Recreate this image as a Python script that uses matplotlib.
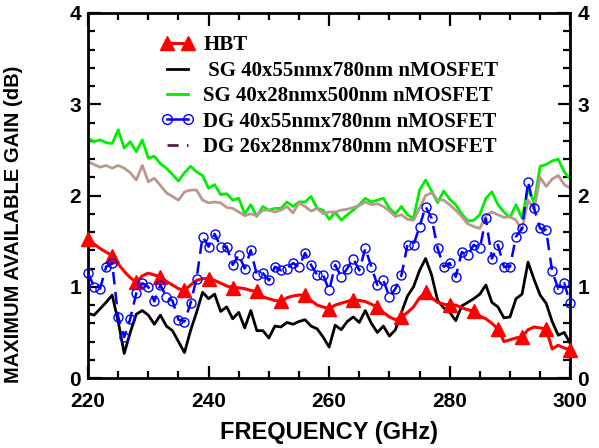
import matplotlib
matplotlib.use("Agg")
import matplotlib.pyplot as plt
from matplotlib.lines import Line2D
from matplotlib.ticker import MultipleLocator

freq = list(range(220, 301))

hbt = [1.52, 1.47, 1.42, 1.38, 1.34, 1.25, 1.17, 1.10, 1.05, 1.12,
       1.15, 1.13, 1.11, 1.06, 1.02, 0.98, 0.96, 1.02, 1.07, 1.09,
       1.09, 1.07, 1.04, 1.01, 0.99, 0.99, 0.98, 0.96, 0.95, 0.89,
       0.87, 0.85, 0.84, 0.88, 0.90, 0.91, 0.91, 0.85, 0.80, 0.78,
       0.76, 0.80, 0.82, 0.84, 0.86, 0.85, 0.84, 0.81, 0.78, 0.72,
       0.67, 0.64, 0.67, 0.72, 0.78, 0.88, 0.94, 0.88, 0.83, 0.81,
       0.80, 0.80, 0.77, 0.75, 0.73, 0.68, 0.65, 0.60, 0.54, 0.40,
       0.42, 0.44, 0.45, 0.53, 0.56, 0.55, 0.54, 0.32, 0.36, 0.33,
       0.31]

sg55 = [0.71, 0.69, 0.76, 0.83, 0.91, 0.62, 0.27, 0.50, 0.70, 0.74,
        0.69, 0.59, 0.69, 0.57, 0.52, 0.40, 0.28, 0.52, 0.72, 0.94,
        0.87, 0.92, 0.73, 0.78, 0.65, 0.72, 0.55, 0.74, 0.52, 0.52,
        0.44, 0.57, 0.56, 0.61, 0.59, 0.62, 0.64, 0.57, 0.54, 0.45,
        0.34, 0.58, 0.53, 0.62, 0.67, 0.61, 0.74, 0.60, 0.50, 0.57,
        0.46, 0.53, 0.72, 0.90, 1.00, 1.18, 1.31, 1.13, 0.85, 0.77,
        0.72, 0.63, 0.79, 0.83, 0.87, 0.92, 1.02, 0.83, 0.78, 0.66,
        0.67, 0.87, 0.92, 1.27, 1.08, 0.91, 0.82, 0.62, 0.47, 0.50,
        0.38]

sg28 = [2.63, 2.59, 2.61, 2.58, 2.57, 2.72, 2.52, 2.59, 2.48, 2.61,
        2.41, 2.43, 2.35, 2.30, 2.23, 2.16, 2.25, 2.32, 2.26, 2.22,
        2.08, 2.12, 2.01, 2.02, 1.95, 1.97, 1.80, 1.90, 1.77, 1.88,
        1.84, 1.86, 1.86, 1.93, 1.88, 1.93, 1.93, 1.99, 1.86, 1.84,
        1.74, 1.82, 1.73, 1.79, 1.84, 1.90, 1.97, 1.93, 1.95, 1.97,
        1.86, 1.80, 1.88, 1.79, 1.75, 2.06, 2.17, 2.05, 1.92, 2.05,
        1.96, 1.90, 1.80, 1.72, 1.73, 1.79, 1.97, 2.04, 1.90, 1.82,
        1.76, 1.90, 1.75, 2.08, 1.92, 2.32, 2.34, 2.38, 2.40, 2.26,
        2.18]

dg55 = [1.15, 1.00, 0.98, 1.22, 1.26, 0.67, 0.45, 0.65, 0.93, 1.04,
        1.00, 0.84, 1.02, 0.89, 0.85, 0.64, 0.62, 0.82, 1.09, 1.55,
        1.44, 1.58, 1.44, 1.44, 1.24, 1.35, 1.20, 1.40, 1.13, 1.15,
        1.07, 1.22, 1.18, 1.20, 1.26, 1.22, 1.37, 1.24, 1.13, 1.13,
        0.96, 1.24, 1.11, 1.20, 1.31, 1.18, 1.42, 1.22, 1.02, 1.07,
        0.89, 0.98, 1.13, 1.46, 1.46, 1.66, 1.88, 1.75, 1.42, 1.22,
        1.26, 1.11, 1.38, 1.35, 1.46, 1.42, 1.75, 1.31, 1.46, 1.22,
        1.22, 1.55, 1.64, 2.15, 1.86, 1.64, 1.62, 1.17, 0.98, 1.04,
        0.82]

dg26 = [2.37, 2.34, 2.31, 2.33, 2.30, 2.33, 2.30, 2.25, 2.17, 2.33,
        2.15, 2.19, 2.11, 2.03, 1.99, 1.95, 2.04, 2.06, 2.06, 1.95,
        1.92, 1.93, 1.92, 1.87, 1.86, 1.82, 1.78, 1.80, 1.78, 1.84,
        1.84, 1.82, 1.84, 1.88, 1.81, 1.92, 1.88, 1.83, 1.86, 1.80,
        1.82, 1.82, 1.84, 1.85, 1.87, 1.89, 1.93, 1.90, 1.91, 1.88,
        1.83, 1.77, 1.79, 1.74, 1.73, 1.86, 2.00, 2.03, 1.95, 1.95,
        1.90, 1.84, 1.77, 1.69, 1.66, 1.64, 1.78, 1.82, 1.79, 1.76,
        1.77, 1.73, 1.62, 1.95, 1.85, 2.20, 2.10, 2.18, 2.22, 2.12,
        2.08]

labels = ["HBT", " SG 40x55nmx780nm nMOSFET", "SG 40x28nmx500nm nMOSFET",
          "DG 40x55nmx780nm nMOSFET", "DG 26x28nmx780nm nMOSFET"]

fig = plt.figure(figsize=(5.99, 4.48), dpi=100)
ax = fig.add_axes([0.147, 0.156, 0.805, 0.815])

c_red = "#FF0000"
c_green = "#00EE00"
c_brown = "#BA9790"
c_blue = "#0000FF"
c_purple = "#5E1A4C"

ax.plot(freq, sg28, color=c_green, lw=2.0, zorder=2)
ax.plot(freq, dg26, color=c_brown, lw=2.0, zorder=2)
ax.plot(freq, sg55, color="black", lw=2.0, zorder=3)
ax.plot(freq, hbt, color=c_red, lw=2.2, marker="^", ms=10, markevery=4,
        zorder=4, clip_on=False)
ax.plot(freq, dg55, color=c_blue, lw=1.8, linestyle=(0, (5, 3)),
        marker="o", ms=6.5, mfc="none", mec=c_blue, mew=1.0, zorder=5,
        clip_on=False)

ax.set_xlim(220, 300)
ax.set_ylim(0, 4)
ax.xaxis.set_major_locator(MultipleLocator(20))
ax.xaxis.set_minor_locator(MultipleLocator(5))
ax.yaxis.set_major_locator(MultipleLocator(1))
ax.yaxis.set_minor_locator(MultipleLocator(0.2))
ax.tick_params(which="both", direction="in", top=True, right=True,
               labelright=True, width=1.6)
ax.tick_params(which="major", length=9, labelsize=15)
ax.tick_params(which="minor", length=5)
ax.tick_params(axis="x", which="major", pad=10)
ax.tick_params(axis="y", which="major", pad=5)
for sp in ax.spines.values():
    sp.set_linewidth(2)

for t in ax.xaxis.majorTicks + ax.yaxis.majorTicks:
    for lab in (t.label1, t.label2):
        lab.set_family("Liberation Sans")
        lab.set_weight("bold")

ax.set_xlabel("FREQUENCY (GHz)", family="Liberation Sans", weight="bold",
              size=17)
ax.xaxis.set_label_coords(0.5, -0.118)
ax.set_ylabel("MAXIMUM AVAILABLE GAIN (dB)", family="Liberation Sans",
              weight="bold", size=14.5)
ax.yaxis.set_label_coords(-0.135, 0.42)

handles = [
    Line2D([], [], color=c_red, lw=2.2, marker="^", ms=10),
    Line2D([], [], color="black", lw=2.0),
    Line2D([], [], color=c_green, lw=2.0),
    Line2D([], [], color=c_blue, lw=1.8, marker="o", ms=7, mfc="none", mec=c_blue),
    Line2D([], [], color=c_purple, lw=2.0, linestyle=(0, (4, 3, 1, 3))),
]
leg = fig.legend(handles, labels, loc="upper left",
                 bbox_to_anchor=(150 / 599, 1 - 25 / 448),
                 frameon=False, numpoints=2, borderpad=0, handlelength=1.6,
                 handletextpad=0.45, labelspacing=0.26,
                 prop=dict(family="Liberation Serif", weight="bold", size=15))

fig.savefig("out.png", dpi=100)
